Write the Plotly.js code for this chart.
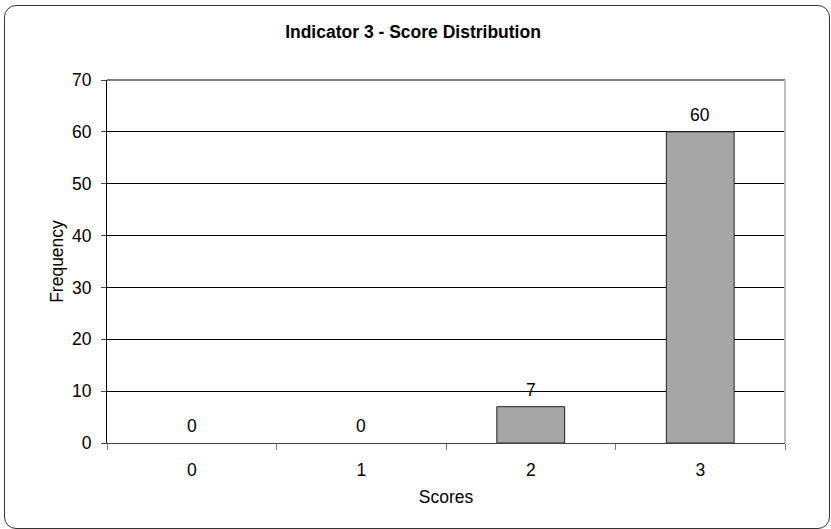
<!DOCTYPE html>
<html>
<head>
<meta charset="utf-8">
<script src="https://cdn.plot.ly/plotly-3.0.1.min.js"></script>
<style>
  html, body { margin: 0; padding: 0; background: #fff; }
  #frame {
    position: absolute; left: 4px; top: 5px;
    width: 826px; height: 524px;
    border: 1.5px solid #333; border-radius: 12px;
    box-sizing: border-box;
  }
  #chart { position: absolute; left: 0; top: 0; width: 831px; height: 529px; }
</style>
</head>
<body>
<div id="frame"></div>
<div id="chart"></div>
<script>
// Score categories and how many times each score was given
const scores = ['0', '1', '2', '3'];
const frequency = [0, 0, 7, 60];
const yTicks = [0, 10, 20, 30, 40, 50, 60, 70];

const font = 'Liberation Sans, Arial, sans-serif';
const txt = { family: font, size: 17.5, color: '#000' };

const trace = {
  type: 'bar',
  x: scores,
  y: frequency,
  width: 0.4,
  marker: {
    color: '#a6a6a6',
    line: { color: '#222', width: frequency.map(v => (v ? 1 : 0)) }
  },
  cliponaxis: false,
  hoverinfo: 'skip'
};

// value labels sit just above each bar
const valueLabels = scores.map((s, i) => ({
  x: s, y: frequency[i], xref: 'x', yref: 'y',
  text: String(frequency[i]),
  showarrow: false, yanchor: 'bottom', yshift: 5,
  font: txt
}));

const layout = {
  width: 831, height: 529,
  margin: { l: 107, r: 46, t: 80, b: 86 },
  paper_bgcolor: 'rgba(0,0,0,0)',
  plot_bgcolor: '#fff',
  showlegend: false,
  title: {
    text: '<b>Indicator 3 - Score Distribution</b>',
    font: { family: font, size: 17.5, color: '#000' },
    x: 0.497, xanchor: 'center', y: 0.94, yanchor: 'middle'
  },
  xaxis: {
    type: 'category',
    tickson: 'boundaries',
    ticks: 'outside', ticklen: 6, tickcolor: '#777', tickwidth: 1,
    ticklabelstandoff: 11,
    showline: true, linecolor: '#444', linewidth: 1,
    showgrid: false, zeroline: false,
    tickfont: txt,
    title: { text: 'Scores', font: txt, standoff: 11 },
    fixedrange: true
  },
  yaxis: {
    range: [0, 70],
    tickvals: yTicks,
    ticktext: yTicks.map(String),
    ticks: 'outside', ticklen: 5, tickcolor: '#444',
    ticklabelstandoff: 6,
    showline: true, linecolor: '#000', linewidth: 1,
    showgrid: true, gridcolor: '#000', gridwidth: 1,
    zeroline: false,
    tickfont: txt,
    title: { text: 'Frequency', font: txt, standoff: 3 },
    fixedrange: true
  },
  annotations: valueLabels,
  shapes: [
    { type: 'line', xref: 'paper', yref: 'paper', x0: 0, x1: 1, y0: 1, y1: 1,
      line: { color: '#555', width: 1.5 } },
    { type: 'line', xref: 'paper', yref: 'paper', x0: 1, x1: 1, y0: 0, y1: 1,
      line: { color: '#c0c0c0', width: 2 } }
  ]
};

Plotly.newPlot('chart', [trace], layout, { displayModeBar: false, staticPlot: true });
</script>
</body>
</html>
